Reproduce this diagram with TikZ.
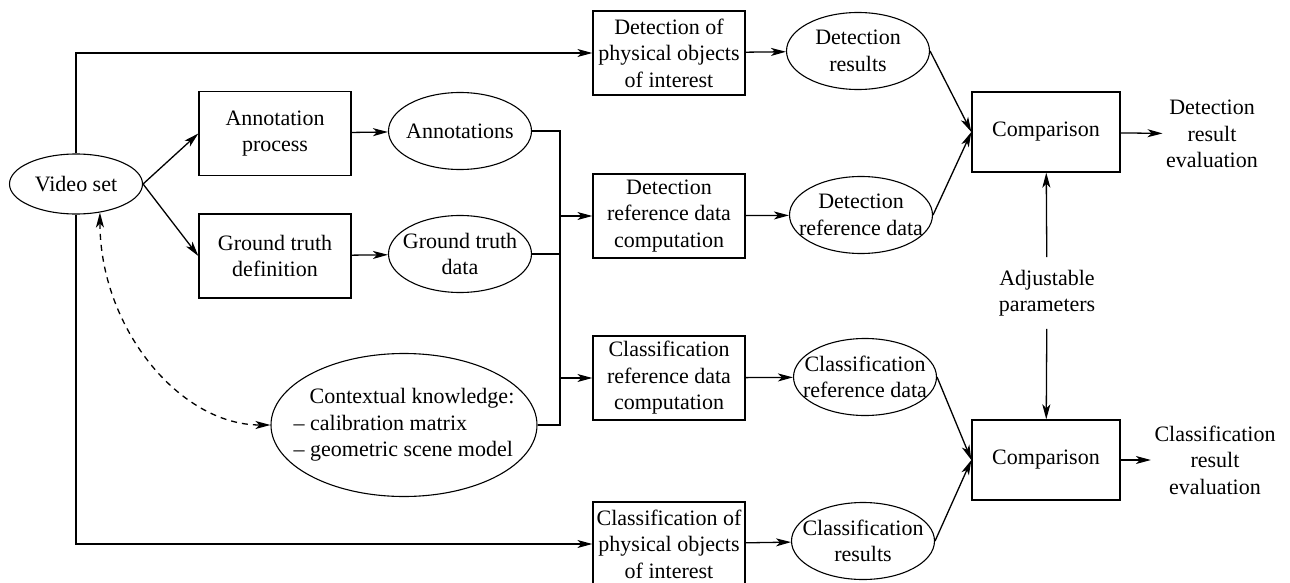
\documentclass[tikz,border=0pt]{standalone}
\usepackage{fontspec}
\setmainfont{Liberation Serif}
\usetikzlibrary{calc, shapes, arrows.meta}

\begin{document}
\begin{tikzpicture}[x=1pt, y=-1pt, line width=1.3pt,
        font=\fontsize{22}{26.5}\selectfont,
        >={Stealth[length=15pt, width=8pt, inset=4pt]}]
    \tikzstyle{process} = [rectangle, draw, minimum width=152pt, minimum
        height=84pt, inner sep=0pt, align=center]
    \tikzstyle{data} = [ellipse, draw, line width=1.1pt, minimum width=143pt, minimum
        height=77pt, inner xsep=-30pt, inner ysep=-20pt, align=center]
    \tikzstyle{compare} = [rectangle, draw, minimum width=148pt, minimum
        height=80pt, inner sep=0pt]
    \tikzstyle{outcome} = [align=center, inner sep=3pt]

    \useasboundingbox (0, 0) rectangle (1290, 583);

    % Inputs --------------------------------------------
    \node (video) at (76, 184) [data, minimum width=133pt, minimum height=60pt] {Video set};

    \node (annot) at (275, 133.5) [process] {Annotation\\process};
    \node (truth) at ($(annot) + (0, 122.5)$) [process] {Ground truth\\definition};

    \node (annots) at (460, 131) [data] {Annotations};
    \node (truthdata) at ($(annots) + (0, 123)$) [data] {Ground truth\\data};

    \node (context) at (404, 425) [data, minimum width=266pt, minimum
        height=143pt, align=left] {\hspace{16pt}Contextual knowledge:\\-- calibration matrix\\-- geometric scene model};
    % ---------------------------------------------------

    % Processing ----------------------------------------
    \node (detobj) at (669, 53) [process] {Detection of\\physical objects\\of interest};
    \node (detref) at ($(detobj) + (0, 163)$) [process] {Detection\\reference data\\computation};
    \node (clsref) at ($(detref) + (0, 162)$) [process] {Classification\\reference data\\computation};
    \node (clsobj) at ($(clsref) + (0, 166)$) [process] {Classification of\\physical objects\\of interest};

    \node (detres) at (858, 51) [data] {Detection\\results};
    \node (detrefdata) at (861, 215) [data] {Detection\\reference data};
    \node (clsrefdata) at (865, 377) [data] {Classification\\reference data};
    \node (clsres) at (863, 541) [data] {Classification\\results};
    % ---------------------------------------------------

    % Evaluation ----------------------------------------
    \node (cmpdet) at (1046, 132) [compare] {Comparison};
    \node (cmpcls) at ($(cmpdet) + (0, 328)$) [compare] {Comparison};

    \node (params) at (1047, 293) [outcome, inner ysep=12pt] {Adjustable\\parameters};
    \node (deteval) at (1212, 134) [outcome] {Detection\\result\\evaluation};
    \node (clseval) at (1215, 460) [outcome] {Classification\\result\\evaluation};
    % ---------------------------------------------------

    \draw [->] (video.north) |- (detobj.west);
    \draw [->] (video.south) |- (clsobj.west);
    \draw [->] (video.east) -- (annot.west);
    \draw [->] (video.east) -- (truth.west);
    \draw [<->, dash pattern=on 6pt off 5pt] (video.-50) .. controls +(0, 115) and +(-91, 0) .. (context.west);

    \draw [->] (annot) -- (annots);
    \draw [->] (truth) -- (truthdata);

    % gathering line
    \coordinate (bus) at (560, 0);
    \draw (annots.east) -| (bus |- context.east) -- (context.east);
    \draw (truthdata.east) -- (bus |- truthdata.east);
    \draw [->] (bus |- detref.west) -- (detref.west);
    \draw [->] (bus |- clsref.west) -- (clsref.west);

    \draw [->] (detobj) -- (detres);
    \draw [->] (detref) -- (detrefdata);
    \draw [->] (clsref) -- (clsrefdata);
    \draw [->] (clsobj) -- (clsres);

    \draw [->] (detres.east) -- (cmpdet.west);
    \draw [->] (detrefdata.east) -- (cmpdet.west);
    \draw [->] (clsrefdata.east) -- (cmpcls.west);
    \draw [->] (clsres.east) -- (cmpcls.west);

    \draw [->] (params) -- (cmpdet);
    \draw [->] (params) -- (cmpcls);
    \draw [->] (cmpdet) -- (deteval);
    \draw [->] (cmpcls) -- (clseval);
\end{tikzpicture}
\end{document}
